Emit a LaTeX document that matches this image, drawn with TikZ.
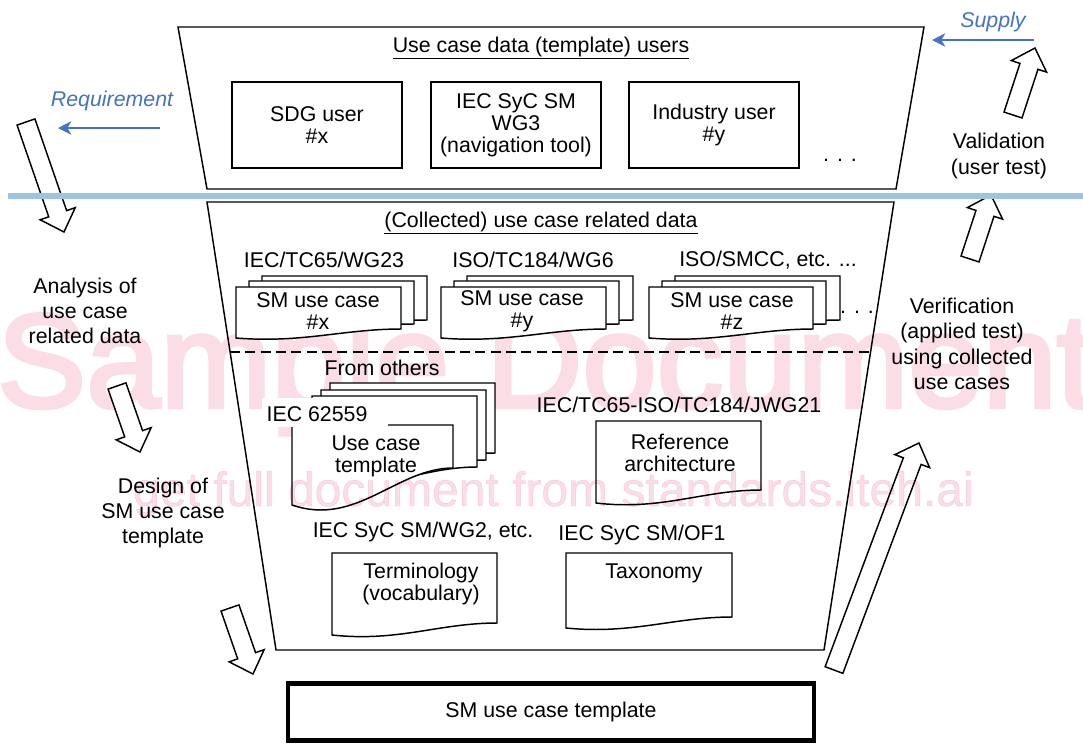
\documentclass[tikz,border=0pt]{standalone}
\usepackage{fontspec}
\setmainfont{Liberation Sans}
\newfontfamily\wmfont[FakeBold=3]{Liberation Sans}
\newfontfamily\wmfontb[FakeBold=1]{Liberation Sans}
\usetikzlibrary{calc,arrows.meta}
\definecolor{wm}{RGB}{251,221,230}
\definecolor{req}{RGB}{68,114,196}
\definecolor{sepblue}{RGB}{157,195,230}
\tikzset{
 lbl/.style={font=\fontsize{16}{16.5}\selectfont, align=center, inner sep=0pt},
 side/.style={font=\fontsize{16}{19}\selectfont, align=center, inner sep=0pt},
 userbox/.style={draw, line width=1.1pt, minimum width=127.5pt, minimum height=64.5pt, align=center, font=\fontsize{16}{16.5}\selectfont, inner sep=0pt},
 docst/.style={draw, fill=white, line width=1.1pt},
 frame/.style={draw, line width=1.1pt, line join=miter},
 blk/.style={draw, line width=1.1pt, fill=white, line join=miter},
 bluearr/.style={draw=req, line width=1.2pt, -{Stealth[length=10pt,width=10pt,inset=3pt]}},
 bluetxt/.style={text=req, font=\fontsize{16}{16}\selectfont\itshape, inner sep=0pt},
 wmtxt/.style={anchor=base west, inner sep=0pt, text=wm},
}
\newcommand\blockarrow[2]{%
 \coordinate (#2h) at ($(#2)!14.5pt!(#1)$);
 \path[blk] ($(#1)!7.1pt!90:(#2)$) -- ($(#2h)!7.1pt!90:(#2)$) -- ($(#2h)!13.9pt!90:(#2)$) -- (#2) -- ($(#2h)!13.9pt!-90:(#2)$) -- ($(#2h)!7.1pt!-90:(#2)$) -- ($(#1)!7.1pt!-90:(#2)$) -- cycle;}
\newcommand\docshape[5]{%
 \path[docst] (#1,#3) -- (#2,#3) -- (#2,#4) .. controls ({#2-0.35*(#2-#1)},{#4}) and ({#1+0.4*(#2-#1)},{#5+0.6*(#5-#4)}) .. (#1,#5) -- cycle;}
\begin{document}
\begin{tikzpicture}[x=0.75pt,y=-0.75pt]
\useasboundingbox (0,0) rectangle (1083,751);
% watermark (behind)
\node[wmtxt, font=\wmfont\fontsize{100}{100}\selectfont] (wm1) at (-3,407) {Sample Document};
% frames
\coordinate (T1) at (178,27); \coordinate (T2) at (924,27);
\coordinate (T3) at (896,189); \coordinate (T4) at (207,189);
\path[frame] (T1) -- (T2) -- (T3) -- (T4) -- cycle;
\coordinate (B1) at (207,202); \coordinate (B2) at (894,202);
\coordinate (B3) at (824,650); \coordinate (B4) at (276,650);
\path[frame] (B1) -- (B2) -- (B3) -- (B4) -- cycle;
\node[lbl] (ttop) at (541,48) {\underline{Use case data (template) users}};
\node[lbl] (tbot) at (541,223) {\underline{(Collected) use case related data}};
% users
\node[userbox] (sdg) at (317,125) {SDG user\\\#x};
\node[userbox] (wg3) at (516,125) {IEC SyC SM\\WG3\\(navigation tool)};
\node[userbox] (ind) at (714,125) {Industry user\\\#y};
\node[lbl] (dots1) at (840,160) {. . .};
% blue labels
\node[bluetxt] (reqt) at (112,101) {Requirement};
\coordinate (reqa) at (160,128); \coordinate (reqb) at (58,128);
\draw[bluearr] (reqa) -- (reqb);
\node[bluetxt] (supt) at (993,22) {Supply};
\coordinate (supa) at (1034,40); \coordinate (supb) at (932,40);
\draw[bluearr] (supa) -- (supb);
% side texts
\node[side] (ana) at (85,311) {Analysis of\\use case\\related data};
\node[side] (des) at (163,513) {Design of\\SM use case\\template};
\node[side] (val) at (999,156) {Validation\\(user test)};
\node[side] (ver) at (962,344) {Verification\\(applied test)\\using collected\\use cases};
% collected data row
\node[lbl] (org1) at (324,260) {IEC/TC65/WG23};
\node[lbl] (org2) at (533,260) {ISO/TC184/WG6};
\node[lbl] (org3) at (768,260) {ISO/SMCC, etc. ...};
\docshape{262}{427}{276}{320}{329}
\docshape{249}{414}{281}{324}{333}
\docshape{236}{401}{287}{329}{338}
\docshape{467}{633}{276}{320}{329}
\docshape{454}{619}{281}{324}{333}
\docshape{441}{606}{287}{329}{338}
\docshape{675}{840}{276}{320}{329}
\docshape{662}{826}{281}{324}{333}
\docshape{649}{813}{287}{329}{338}
\node[lbl] (uc1) at (318,311) {SM use case\\\#x};
\node[lbl] (uc2) at (522,311) {SM use case\\\#y};
\node[lbl] (uc3) at (732,311) {SM use case\\\#z};
\node[lbl] (dots2) at (857,312) {. . .};
\draw[line width=1.1pt, dash pattern=on 7.5pt off 4pt] ($(B1)!0.335!(B4)$) -- ($(B2)!0.335!(B3)$);
% from others
\node[lbl] (fo) at (382,368) {From others};
\docshape{330}{495}{383}{453}{470}
\docshape{321}{486}{390}{460}{477}
\docshape{312}{477}{396}{467}{484}
\docshape{292}{453}{425}{468}{505}
\fill[white] (262,398) rectangle (388,427);
\node[lbl] (iec) at (317,414) {IEC 62559};
\node[lbl] (uct) at (376,456) {Use case\\template};
\node[lbl] (jwg) at (679,405) {IEC/TC65-ISO/TC184/JWG21};
\docshape{596}{761}{421}{490}{503}
\node[lbl] (refa) at (680,453) {Reference\\architecture};
\node[lbl] (wg2) at (423,532) {IEC SyC SM/WG2, etc.};
\node[lbl] (of1) at (642,535) {IEC SyC SM/OF1};
\docshape{332}{497}{553}{623}{635}
\node[lbl] (term) at (421,584) {Terminology\\(vocabulary)};
\docshape{566}{732}{553}{617}{628}
\node[lbl] (tax) at (654,573) {Taxonomy};
% template box
\node[draw, line width=3.4pt, minimum width=394.5pt, minimum height=42.75pt, inner sep=0pt, font=\fontsize{16}{16}\selectfont] (smt) at (551,712) {SM use case template};
% block arrows
\coordinate (a1t) at (26,122); \coordinate (a1p) at (64,232);
\blockarrow{a1t}{a1p}
\coordinate (a2t) at (117,386); \coordinate (a2p) at (140,452);
\blockarrow{a2t}{a2p}
\coordinate (a3t) at (230,608); \coordinate (a3p) at (253,674);
\blockarrow{a3t}{a3p}
\coordinate (a4t) at (834,670); \coordinate (a4p) at (919,443);
\blockarrow{a4t}{a4p}
\coordinate (a5t) at (970,259); \coordinate (a5p) at (991,195);
\blockarrow{a5t}{a5p}
\coordinate (a6t) at (1013,115); \coordinate (a6p) at (1035,48);
\blockarrow{a6t}{a6p}
% separator line
\coordinate (s1) at (8,196); \coordinate (s2) at (1083,196);
\draw[sepblue, line width=4.5pt] (s1) -- (s2);
% watermark (overlay)
\begin{scope}[blend mode=multiply]
\node[wmtxt, font=\wmfontb\fontsize{36}{36}\selectfont] (wm2) at (133,506) {get full document from standards.iteh.ai};
\end{scope}
\end{tikzpicture}
\end{document}
